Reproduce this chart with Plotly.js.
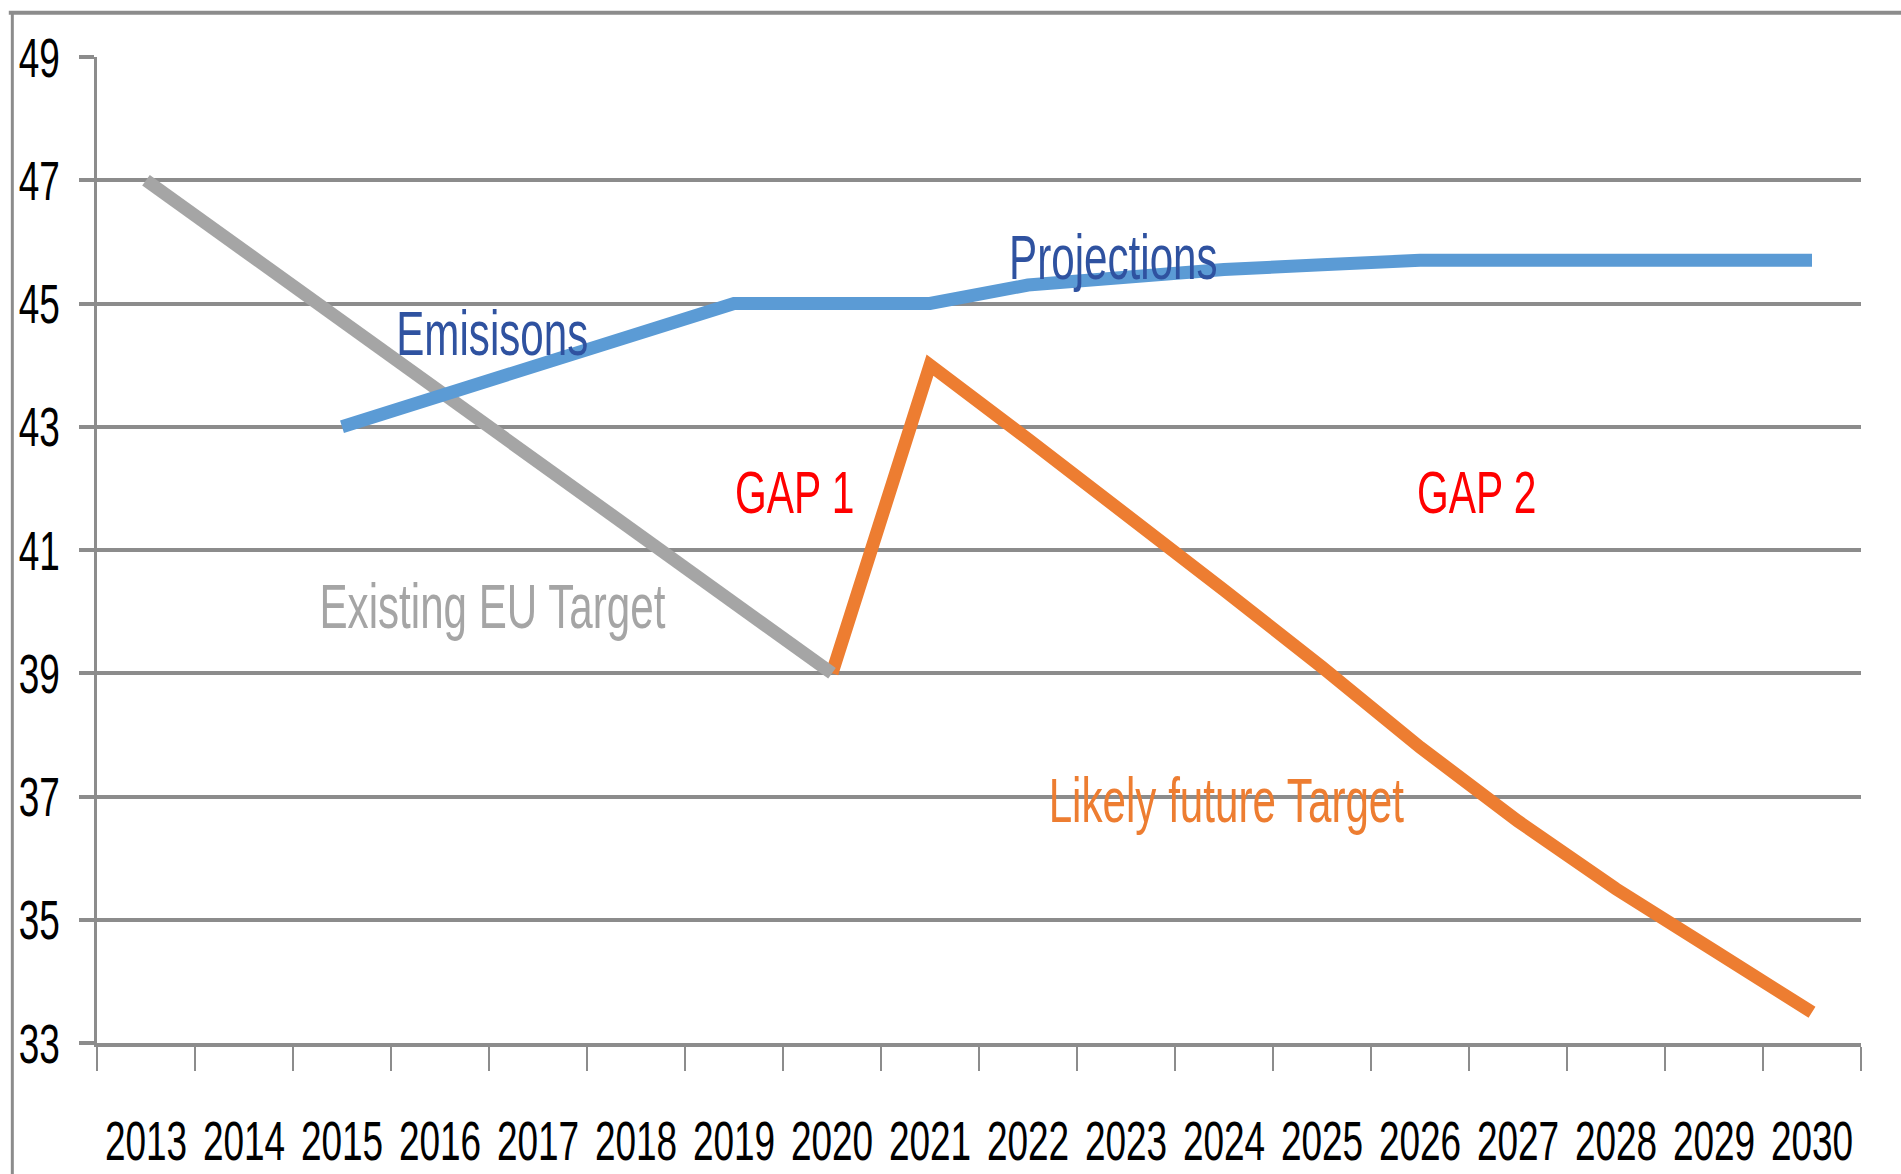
<!DOCTYPE html>
<html>
<head>
<meta charset="utf-8">
<script src="https://cdn.plot.ly/plotly-3.0.1.min.js"></script>
<style>html,body{margin:0;padding:0;background:#fff;}#chart{width:1901px;height:1174px;}</style>
</head>
<body>
<div id="chart"></div>
<script>
const years = ['2013','2014','2015','2016','2017','2018','2019','2020','2021','2022','2023','2024','2025','2026','2027','2028','2029','2030'];
const existingYears = ['2013','2014','2015','2016','2017','2018','2019','2020'];
const existingTarget = [47, 45.86, 44.71, 43.57, 42.43, 41.29, 40.14, 39];
const emissionYears = ['2015','2016','2017','2018','2019','2020','2021','2022','2023','2024','2025','2026','2027','2028','2029','2030'];
const emissions = [43, 43.5, 44, 44.5, 45, 45, 45, 45.3, 45.45, 45.55, 45.63, 45.7, 45.7, 45.7, 45.7, 45.7];
const futureYears = ['2020','2021','2022','2023','2024','2025','2026','2027','2028','2029','2030'];
const futureTarget = [39, 44, 42.8, 41.6, 40.35, 39.1, 37.8, 36.6, 35.5, 34.5, 33.5];
const yTicks = [33, 35, 37, 39, 41, 43, 45, 47, 49];

const FONT = '"Liberation Sans", Arial, sans-serif';

const traces = [
  {x: futureYears, y: futureTarget, type: 'scatter', mode: 'lines', line: {color: '#ED7D31', width: 13}, hoverinfo: 'skip'},
  {x: existingYears, y: existingTarget, type: 'scatter', mode: 'lines', line: {color: '#A5A5A5', width: 13}, hoverinfo: 'skip'},
  {x: emissionYears, y: emissions, type: 'scatter', mode: 'lines', line: {color: '#5B9BD5', width: 13}, hoverinfo: 'skip'}
];

const layout = {
  width: 1901, height: 1174,
  margin: {l: 97, r: 40, t: 57, b: 131},
  paper_bgcolor: '#fff', plot_bgcolor: '#fff',
  showlegend: false,
  font: {family: FONT, color: '#000'},
  xaxis: {
    type: 'category', categoryarray: years, categoryorder: 'array',
    range: [-0.5, 17.5],
    tickson: 'boundaries', ticks: 'outside', ticklen: 24, tickwidth: 2, tickcolor: '#8c8c8c',
    tickangle: 0,
    showgrid: false, zeroline: false,
    showline: true, linecolor: '#8c8c8c', linewidth: 4,
    tickfont: {family: FONT, size: 56, color: '#000'},
    ticklabelstandoff: 46,
    fixedrange: true
  },
  yaxis: {
    range: [33, 49], tickvals: yTicks, ticktext: yTicks.map(String),
    showgrid: true, gridcolor: '#8c8c8c', gridwidth: 4,
    ticks: 'outside', ticklen: 15, tickwidth: 4, tickcolor: '#8c8c8c',
    showline: true, linecolor: '#8c8c8c', linewidth: 3,
    zeroline: false,
    tickfont: {family: FONT, size: 56, color: '#000'},
    ticklabelstandoff: 8,
    fixedrange: true
  },
  shapes: [
    {type: 'line', xref: 'paper', yref: 'paper', x0: -0.05, x1: 1.03, y0: 1.045, y1: 1.045, line: {color: '#8c8c8c', width: 4}},
    {type: 'line', xref: 'paper', yref: 'paper', x0: -0.048, x1: -0.048, y0: 1.045, y1: -0.14, line: {color: '#8c8c8c', width: 3}}
  ],
  annotations: [
    {text: 'Emisisons', x: 3.54, y: 44.52, font: {family: FONT, size: 62, color: '#2F52A0'}},
    {text: 'Projections', x: 9.87, y: 45.75, font: {family: FONT, size: 62, color: '#2F52A0'}},
    {text: 'GAP 1', x: 6.62, y: 41.94, font: {family: FONT, size: 60, color: '#FF0000'}},
    {text: 'GAP 2', x: 13.58, y: 41.94, font: {family: FONT, size: 60, color: '#FF0000'}},
    {text: 'Existing EU Target', x: 3.54, y: 40.09, font: {family: FONT, size: 62, color: '#A5A5A5'}},
    {text: 'Likely future Target', x: 11.03, y: 36.94, font: {family: FONT, size: 62, color: '#ED7D31'}}
  ].map(a => Object.assign({xref: 'x', yref: 'y', showarrow: false}, a))
};

function squash(sel, f, anchor) {
  document.querySelectorAll(sel).forEach(t => {
    const b = t.getBBox();
    const cx = anchor === 'end' ? b.x + b.width : b.x + b.width / 2;
    const prev = t.getAttribute('transform') || '';
    t.setAttribute('transform', prev + ' translate(' + cx + ',0) scale(' + f + ',1) translate(' + (-cx) + ',0)');
  });
}

Plotly.newPlot('chart', traces, layout, {staticPlot: true, displayModeBar: false}).then(() => {
  squash('.xtick text', 0.66, 'middle');
  squash('.ytick text', 0.66, 'end');
  squash('.annotation-text', 0.68, 'middle');
});
</script>
</body>
</html>
